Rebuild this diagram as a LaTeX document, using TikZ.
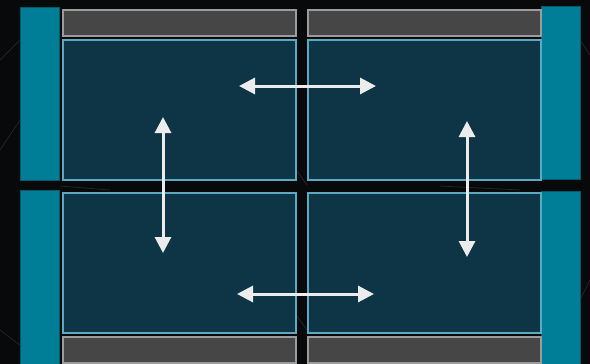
\documentclass[tikz,border=0pt]{standalone}
\usepackage{tikz}
\usetikzlibrary{arrows.meta}

\definecolor{bgdark}{HTML}{08090B}
\definecolor{bgline}{HTML}{222528}
\definecolor{tealbar}{HTML}{007E97}
\definecolor{tealedge}{HTML}{005A6C}
\definecolor{panelfill}{HTML}{0D3546}
\definecolor{paneledge}{HTML}{5BA9C2}
\definecolor{greyfill}{HTML}{464646}
\definecolor{greyedge}{HTML}{9C9C9C}
\definecolor{arrowcol}{HTML}{ECECEC}

\begin{document}
\begin{tikzpicture}[x=1pt,y=-1pt,
	bar/.style ={rectangle, fill=tealbar, draw=tealedge, line width=1pt, inner sep=0pt, outer sep=0pt, minimum width=39pt},
	panel/.style ={rectangle, fill=panelfill, draw=paneledge, line width=2pt, inner sep=0pt, outer sep=0pt, minimum width=233pt, minimum height=140pt},
	strip/.style ={rectangle, fill=greyfill, draw=greyedge, line width=2pt, inner sep=0pt, outer sep=0pt, minimum width=233pt, minimum height=26pt},
	link/.style ={draw=arrowcol, line width=3pt, {Triangle[length=16pt,width=16pt]}-{Triangle[length=16pt,width=16pt]}}]
		% backdrop
		\fill[bgdark] (0,0) rectangle (590,364);
		\useasboundingbox (0,0) rectangle (590,364);
		\begin{scope}[bgline, line width=0.8pt]
			\draw (0,150) -- (20,120);
			\draw (0,330) -- (20,345);
			\draw (0,60) -- (20,40);
			\draw (580,40) -- (590,55);
			\draw (580,300) -- (590,280);
			\draw (296,170) -- (307,185);
			\draw (296,315) -- (307,330);
			\draw (60,186) -- (110,190);
			\draw (440,186) -- (520,190);
		\end{scope}
		% side bars
		\node[bar, minimum height=173pt] (lt) at (40,93.5) {};
		\node[bar, minimum height=176pt] (lb) at (40,278) {};
		\node[bar, minimum height=173pt] (rt) at (560.5,92.5) {};
		\node[bar, minimum height=176pt] (rb) at (560.5,279) {};
		% grey strips
		\node[strip] (s1) at (179,22.5) {};
		\node[strip] (s2) at (424,22.5) {};
		\node[strip] (s3) at (179,349.5) {};
		\node[strip] (s4) at (424,349.5) {};
		% panels
		\node[panel] (p1) at (179,110) {};
		\node[panel] (p2) at (424,110) {};
		\node[panel] (p3) at (179,263) {};
		\node[panel] (p4) at (424,263) {};
		% arrow ends
		\coordinate (a1) at (239,86);
		\coordinate (a2) at (376,86);
		\coordinate (b1) at (237,294);
		\coordinate (b2) at (374,294);
		\coordinate (c1) at (163,117);
		\coordinate (c2) at (163,253);
		\coordinate (d1) at (467,121);
		\coordinate (d2) at (467,257);
		\draw[link] (a1) -- (a2);
		\draw[link] (b1) -- (b2);
		\draw[link] (c1) -- (c2);
		\draw[link] (d1) -- (d2);
	\end{tikzpicture}
\end{document}
